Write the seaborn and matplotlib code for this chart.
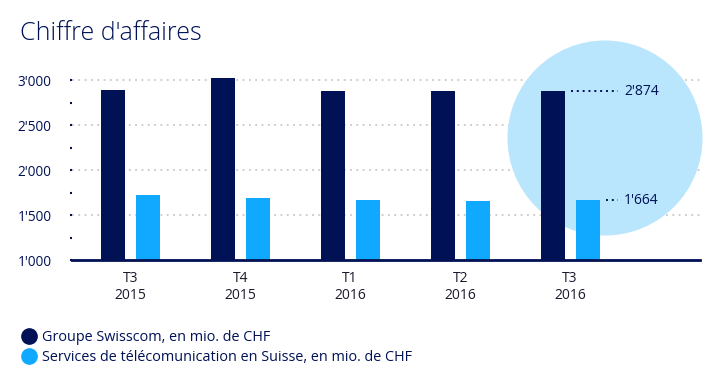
import pandas as pd
import seaborn as sns
import matplotlib.pyplot as plt
from matplotlib.patches import Circle
from matplotlib.lines import Line2D
from matplotlib.ticker import MultipleLocator

periods = ["T3\n2015", "T4\n2015", "T1\n2016", "T2\n2016", "T3\n2016"]
groupe = [2887, 3025, 2876, 2877, 2874]
telecom = [1722, 1690, 1667, 1655, 1664]
series_names = ["Groupe Swisscom, en mio. de CHF",
                "Services de télécomunication en Suisse, en mio. de CHF"]
last_labels = ["2'874", "1'664"]

navy = "#001155"
blue = "#11A9FF"
circle_col = "#B9E5FD"

df = pd.DataFrame({
    "period": periods * 2,
    "value": groupe + telecom,
    "series": [series_names[0]] * 5 + [series_names[1]] * 5,
})

sns.set_style("white")
plt.rcParams["font.family"] = ["Open Sans", "DejaVu Sans"]

fig = plt.figure(figsize=(7.2, 3.9), dpi=100)
ax = fig.add_axes([0.1, 0.3333, 0.872, 0.4846])

sns.barplot(data=df, x="period", y="value", hue="series",
            palette=[navy, blue], saturation=1, width=0.637, gap=0.31, ax=ax,
            legend=False, linewidth=0, zorder=3)

# decorative highlight circle behind the last quarter (over the grid, under the bars)
ax.add_patch(Circle((6.05, 2.52), 0.975, transform=fig.dpi_scale_trans,
                    facecolor=circle_col, edgecolor="none", zorder=1, clip_on=False))

ax.set_ylim(1000, 3100)
ax.set_xlim(-0.53, 5.18)
ax.set_yticks([1000, 1500, 2000, 2500, 3000])
ax.set_yticklabels([f"{v // 1000}'{v % 1000:03d}" for v in range(1000, 3001, 500)])
ax.yaxis.set_minor_locator(MultipleLocator(250))
ax.grid(axis="y", which="major", linestyle=(0, (1, 2.5)), color="#C8C8C8", lw=1.3)
ax.set_axisbelow(True)
ax.tick_params(axis="y", which="both", left=True, length=1.5, width=1.5, color=navy,
               labelcolor=navy, labelsize=9.8, pad=13)
ax.tick_params(axis="x", length=0, labelsize=10, labelcolor="#1a1a2e", pad=8)
ax.set_xlabel("")
ax.set_ylabel("")
for s in ["top", "right", "left"]:
    ax.spines[s].set_visible(False)
ax.spines["bottom"].set_color(navy)
ax.spines["bottom"].set_linewidth(2)
ax.spines["bottom"].set_zorder(5)

# labels for the last quarter
last_bars = [ax.patches[4], ax.patches[9]]
for bar, lab in zip(last_bars, last_labels):
    right = bar.get_x() + bar.get_width()
    top = bar.get_height()
    ax.plot([right + 0.055, 4.44], [top, top], ls=(0, (1, 2)), color=navy,
            lw=1.4, zorder=4)
    ax.text(4.49, top, lab, va="center", ha="left", fontsize=10, color=navy, zorder=4)

fig.text(0.028, 0.915, "Chiffre d'affaires", fontsize=18, color=navy,
         fontweight="light", va="center", ha="left")

handles = [Line2D([], [], marker="o", ls="", markersize=11, color=c) for c in [navy, blue]]
fig.legend(handles, series_names, loc="upper left", bbox_to_anchor=(0.02, 0.168),
           frameon=False, fontsize=10.4, handletextpad=0.3, labelspacing=0.35,
           handlelength=1.2, labelcolor=navy, borderaxespad=0)

fig.savefig("out.png", dpi=100)
